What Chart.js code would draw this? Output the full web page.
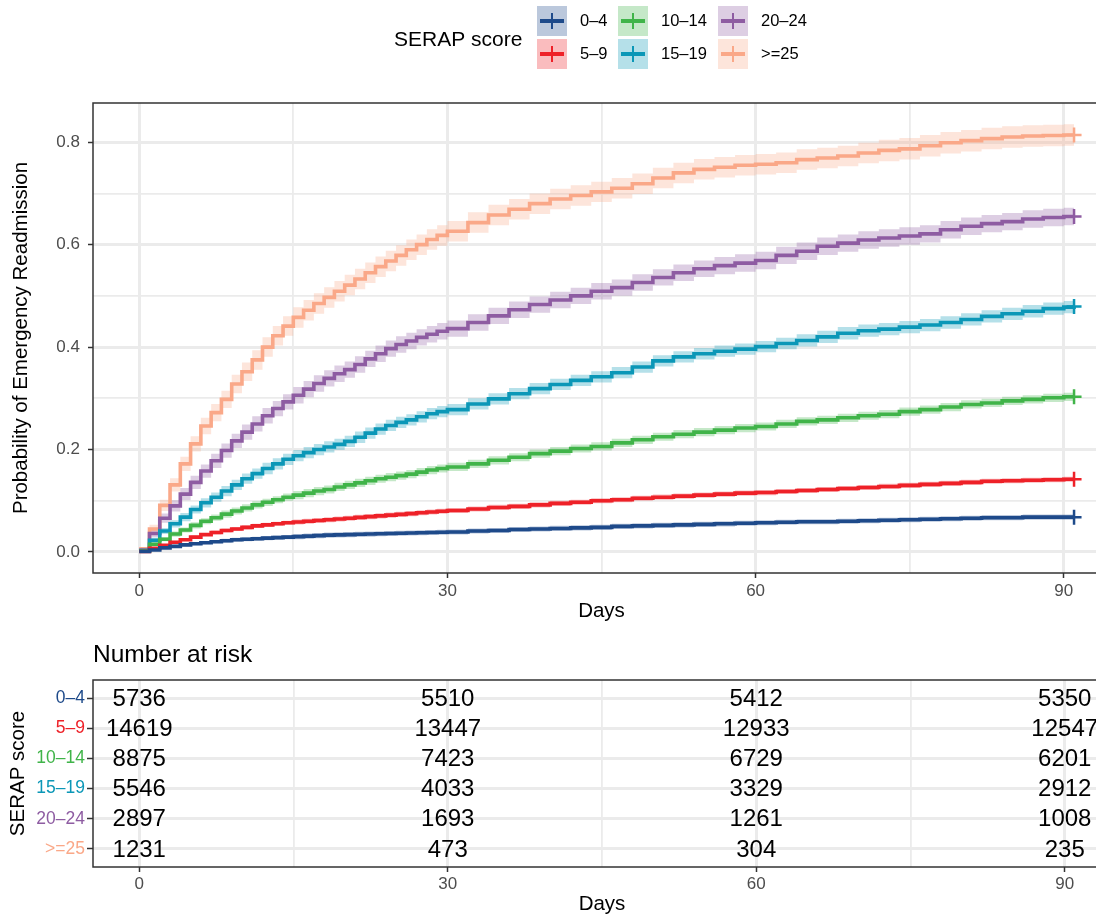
<!DOCTYPE html>
<html>
<head>
<meta charset="utf-8">
<title>SERAP score - emergency readmission</title>
<script src="https://cdn.jsdelivr.net/npm/chart.js@4.4.0/dist/chart.umd.min.js"></script>
<style>
  html, body { margin: 0; padding: 0; background: #fff; overflow: hidden; }
  body { width: 1096px; height: 918px; position: relative; }
  #kmChart { position: absolute; left: 0; top: 0; }
  #riskChart { position: absolute; left: 0; top: 630px; }
</style>
</head>
<body>
<canvas id="kmChart" width="1120" height="630"></canvas>
<canvas id="riskChart" width="1120" height="288"></canvas>
<script>
// groups and colours
const groups = ['0–4', '5–9', '10–14', '15–19', '20–24', '>=25'];
const colors = ['#1E4A8A', '#EE2128', '#40B449', '#0B97B7', '#8E5CA2', '#FAA888'];

// axis breaks
const dayBreaks = [0, 15, 30, 45, 60, 75, 90];
const dayLabels = [0, 30, 60, 90];
const probBreaks = [0, 0.1, 0.2, 0.3, 0.4, 0.5, 0.6, 0.7, 0.8];
const probLabels = [0, 0.2, 0.4, 0.6, 0.8];

// follow-up times (days)
const days = [0, 1, 2, 3, 4, 5, 6, 7, 8, 9, 10, 11, 12, 13, 14,
  15, 16, 17, 18, 19, 20, 21, 22, 23, 24, 25, 26, 27, 28, 29, 30,
  32, 34, 36, 38, 40, 42, 44, 46, 48, 50, 52, 54, 56, 58, 60,
  62, 64, 66, 68, 70, 72, 74, 76, 78, 80, 82, 84, 86, 88, 90, 91];

// cumulative probability of readmission, per group
const est04 = [0.001, 0.004, 0.008, 0.011, 0.014, 0.016, 0.018, 0.020, 0.022, 0.024, 0.025, 0.026, 0.027, 0.028, 0.029,
  0.030, 0.031, 0.032, 0.033, 0.0335, 0.034, 0.0345, 0.035, 0.0355, 0.036, 0.0365, 0.037, 0.0375, 0.038, 0.0385, 0.039,
  0.041, 0.042, 0.044, 0.045, 0.046, 0.047, 0.048, 0.050, 0.051, 0.052, 0.053, 0.054, 0.055, 0.056, 0.057,
  0.058, 0.059, 0.059, 0.060, 0.061, 0.062, 0.063, 0.064, 0.065, 0.066, 0.067, 0.067, 0.068, 0.068, 0.068, 0.068];
const est59 = [0.001, 0.007, 0.013, 0.019, 0.024, 0.029, 0.034, 0.038, 0.042, 0.045, 0.048, 0.051, 0.053, 0.055, 0.057,
  0.0585, 0.060, 0.0615, 0.063, 0.0645, 0.066, 0.0675, 0.069, 0.0705, 0.072, 0.0735, 0.075, 0.0765, 0.078, 0.0795, 0.081,
  0.084, 0.087, 0.089, 0.092, 0.095, 0.097, 0.100, 0.102, 0.105, 0.107, 0.109, 0.111, 0.113, 0.115, 0.116,
  0.118, 0.120, 0.122, 0.124, 0.126, 0.128, 0.130, 0.132, 0.134, 0.136, 0.138, 0.139, 0.140, 0.141, 0.142, 0.142];
const est1014 = [0.002, 0.015, 0.025, 0.035, 0.043, 0.052, 0.060, 0.067, 0.074, 0.080, 0.086, 0.092, 0.097, 0.102, 0.107,
  0.111, 0.115, 0.119, 0.122, 0.127, 0.131, 0.135, 0.139, 0.143, 0.146, 0.149, 0.152, 0.156, 0.160, 0.163, 0.166,
  0.172, 0.179, 0.185, 0.192, 0.197, 0.202, 0.206, 0.213, 0.219, 0.225, 0.230, 0.234, 0.238, 0.242, 0.245,
  0.250, 0.255, 0.258, 0.262, 0.266, 0.269, 0.274, 0.278, 0.283, 0.288, 0.291, 0.295, 0.298, 0.301, 0.303, 0.303];
const est1519 = [0.003, 0.023, 0.041, 0.055, 0.068, 0.083, 0.096, 0.107, 0.119, 0.131, 0.143, 0.153, 0.163, 0.172, 0.181,
  0.188, 0.194, 0.200, 0.205, 0.210, 0.216, 0.224, 0.232, 0.240, 0.247, 0.253, 0.258, 0.264, 0.270, 0.274, 0.278,
  0.289, 0.299, 0.309, 0.319, 0.327, 0.335, 0.342, 0.350, 0.361, 0.373, 0.381, 0.387, 0.392, 0.396, 0.401,
  0.407, 0.413, 0.420, 0.427, 0.432, 0.435, 0.439, 0.443, 0.448, 0.454, 0.460, 0.465, 0.470, 0.475, 0.478, 0.479];
const est2024 = [0.004, 0.036, 0.066, 0.090, 0.113, 0.136, 0.158, 0.178, 0.198, 0.217, 0.234, 0.250, 0.266, 0.280, 0.293,
  0.306, 0.318, 0.329, 0.339, 0.348, 0.356, 0.366, 0.377, 0.387, 0.397, 0.405, 0.412, 0.419, 0.425, 0.431, 0.436,
  0.448, 0.461, 0.473, 0.483, 0.492, 0.500, 0.509, 0.516, 0.526, 0.536, 0.545, 0.553, 0.559, 0.564, 0.569,
  0.579, 0.587, 0.597, 0.603, 0.609, 0.613, 0.617, 0.621, 0.629, 0.636, 0.641, 0.645, 0.650, 0.653, 0.655, 0.655];
const est25 = [0.006, 0.045, 0.091, 0.131, 0.172, 0.211, 0.246, 0.272, 0.298, 0.328, 0.352, 0.375, 0.400, 0.422, 0.441,
  0.458, 0.472, 0.485, 0.497, 0.509, 0.521, 0.533, 0.545, 0.557, 0.568, 0.579, 0.590, 0.600, 0.610, 0.618, 0.626,
  0.643, 0.658, 0.669, 0.680, 0.689, 0.696, 0.703, 0.710, 0.719, 0.730, 0.740, 0.747, 0.751, 0.755, 0.757,
  0.760, 0.766, 0.769, 0.773, 0.779, 0.784, 0.787, 0.793, 0.799, 0.803, 0.807, 0.810, 0.812, 0.813, 0.814, 0.814];

// half width of the confidence band, per group
const hw04 = [0.001, 0.002, 0.002, 0.003, 0.003, 0.003, 0.003, 0.003, 0.004, 0.004, 0.004, 0.004, 0.004, 0.004, 0.004,
  0.005, 0.005, 0.005, 0.005, 0.005, 0.005, 0.005, 0.005, 0.005, 0.005, 0.005, 0.005, 0.005, 0.005, 0.005, 0.005,
  0.005, 0.005, 0.005, 0.005, 0.005, 0.005, 0.005, 0.005, 0.005, 0.005, 0.005, 0.005, 0.005, 0.005, 0.005,
  0.005, 0.005, 0.005, 0.005, 0.005, 0.005, 0.005, 0.005, 0.005, 0.005, 0.005, 0.005, 0.005, 0.005, 0.005, 0.005];
const hw59 = [0.001, 0.002, 0.002, 0.003, 0.003, 0.003, 0.003, 0.004, 0.004, 0.004, 0.004, 0.004, 0.004, 0.004, 0.004,
  0.005, 0.005, 0.005, 0.005, 0.005, 0.005, 0.005, 0.005, 0.005, 0.005, 0.005, 0.005, 0.005, 0.005, 0.005, 0.005,
  0.005, 0.005, 0.005, 0.005, 0.005, 0.005, 0.005, 0.005, 0.005, 0.005, 0.005, 0.005, 0.005, 0.005, 0.005,
  0.005, 0.005, 0.005, 0.005, 0.005, 0.005, 0.005, 0.005, 0.005, 0.005, 0.005, 0.005, 0.005, 0.005, 0.005, 0.005];
const hw1014 = [0.001, 0.003, 0.004, 0.005, 0.005, 0.006, 0.006, 0.006, 0.007, 0.007, 0.007, 0.007, 0.007, 0.007, 0.007,
  0.008, 0.008, 0.008, 0.008, 0.008, 0.008, 0.008, 0.008, 0.008, 0.008, 0.008, 0.008, 0.008, 0.008, 0.008, 0.008,
  0.008, 0.008, 0.008, 0.008, 0.008, 0.008, 0.008, 0.008, 0.008, 0.008, 0.008, 0.008, 0.008, 0.008, 0.008,
  0.008, 0.008, 0.008, 0.008, 0.008, 0.008, 0.008, 0.008, 0.008, 0.008, 0.008, 0.008, 0.008, 0.008, 0.008, 0.008];
const hw1519 = [0.002, 0.005, 0.006, 0.007, 0.008, 0.008, 0.009, 0.009, 0.010, 0.010, 0.010, 0.010, 0.011, 0.011, 0.011,
  0.011, 0.011, 0.011, 0.011, 0.011, 0.011, 0.011, 0.011, 0.011, 0.011, 0.011, 0.011, 0.011, 0.011, 0.011, 0.011,
  0.011, 0.011, 0.011, 0.011, 0.011, 0.011, 0.011, 0.011, 0.011, 0.011, 0.011, 0.011, 0.011, 0.011, 0.011,
  0.011, 0.012, 0.012, 0.012, 0.012, 0.012, 0.012, 0.012, 0.012, 0.012, 0.012, 0.012, 0.012, 0.012, 0.012, 0.012];
const hw2024 = [0.003, 0.007, 0.009, 0.011, 0.012, 0.013, 0.013, 0.014, 0.014, 0.014, 0.015, 0.015, 0.015, 0.015, 0.015,
  0.016, 0.016, 0.016, 0.016, 0.016, 0.016, 0.016, 0.016, 0.016, 0.016, 0.016, 0.016, 0.016, 0.016, 0.016, 0.016,
  0.016, 0.016, 0.016, 0.016, 0.016, 0.016, 0.016, 0.016, 0.016, 0.016, 0.016, 0.016, 0.017, 0.017, 0.017,
  0.017, 0.017, 0.017, 0.017, 0.017, 0.017, 0.017, 0.017, 0.017, 0.017, 0.017, 0.017, 0.017, 0.017, 0.017, 0.017];
const hw25 = [0.003, 0.008, 0.011, 0.013, 0.014, 0.015, 0.016, 0.017, 0.017, 0.018, 0.018, 0.019, 0.019, 0.019, 0.019,
  0.020, 0.020, 0.020, 0.020, 0.020, 0.020, 0.020, 0.020, 0.020, 0.020, 0.020, 0.020, 0.020, 0.020, 0.020, 0.020,
  0.020, 0.020, 0.020, 0.020, 0.020, 0.020, 0.020, 0.020, 0.020, 0.020, 0.020, 0.020, 0.020, 0.020, 0.020,
  0.020, 0.020, 0.020, 0.020, 0.020, 0.021, 0.021, 0.021, 0.021, 0.021, 0.021, 0.021, 0.021, 0.021, 0.021, 0.021];

// number at risk table
const riskDays = [0, 30, 60, 90];
const risk04 = [5736, 5510, 5412, 5350];
const risk59 = [14619, 13447, 12933, 12547];
const risk1014 = [8875, 7423, 6729, 6201];
const risk1519 = [5546, 4033, 3329, 2912];
const risk2024 = [2897, 1693, 1261, 1008];
const risk25 = [1231, 473, 304, 235];

const estimates = [est04, est59, est1014, est1519, est2024, est25];
const halfWidths = [hw04, hw59, hw1014, hw1519, hw2024, hw25];
const riskCounts = [risk04, risk59, risk1014, risk1519, risk2024, risk25];

const FONT = '"Liberation Sans", Arial, Helvetica, sans-serif';
Chart.defaults.font.family = FONT;
Chart.defaults.color = '#4D4D4D';

const fade = (hex, a) => {
  const n = parseInt(hex.slice(1), 16);
  return `rgba(${(n >> 16) & 255}, ${(n >> 8) & 255}, ${n & 255}, ${a})`;
};
const pts = vals => days.map((d, i) => ({ x: d, y: vals[i] }));
const isMajorDay = v => dayLabels.includes(v);
const isMajorProb = v => probLabels.some(p => Math.abs(p - v) < 1e-9);

// bands first (upper filled down to lower), then the step lines
const kmSets = [];
groups.forEach((g, k) => {
  const est = estimates[k], hw = halfWidths[k];
  kmSets.push({
    label: g + ' upper', data: pts(est.map((v, i) => v + hw[i])), stepped: true,
    fill: '+1', backgroundColor: fade(colors[k], 0.3), borderColor: 'transparent',
    borderWidth: 0, pointRadius: 0, order: 2
  });
  kmSets.push({
    label: g + ' lower', data: pts(est.map((v, i) => v - hw[i])), stepped: true,
    fill: false, borderColor: 'transparent', borderWidth: 0, pointRadius: 0, order: 2
  });
});
groups.forEach((g, k) => {
  kmSets.push({
    label: g, data: pts(estimates[k]), stepped: true, fill: false,
    borderColor: colors[k], borderWidth: 3.6,
    pointStyle: 'cross', pointBorderColor: colors[k], pointBorderWidth: 2.5,
    pointRadius: ctx => ctx.dataIndex === days.length - 1 ? 7.5 : 0,
    order: 1
  });
});

const panelBorder = {
  id: 'panelBorder',
  afterDraw(chart) {
    const { left, top, right, bottom } = chart.chartArea;
    const c = chart.ctx;
    c.save();
    c.strokeStyle = '#333333';
    c.lineWidth = 1.5;
    c.strokeRect(left, top, right - left, bottom - top);
    c.restore();
  }
};

// ggplot style legend: title on the left, keys in 3 columns of 2
const serapLegend = {
  id: 'serapLegend',
  afterDraw(chart) {
    const c = chart.ctx;
    c.save();
    c.textBaseline = 'middle';
    c.textAlign = 'left';
    c.fillStyle = '#000';
    c.font = '21px ' + FONT;
    c.fillText('SERAP score', 394, 40);
    const colX = [537, 618, 718];
    const rowY = [6, 39];
    c.font = '16.5px ' + FONT;
    groups.forEach((g, k) => {
      const bx = colX[Math.floor(k / 2)], by = rowY[k % 2];
      c.fillStyle = fade(colors[k], 0.3);
      c.fillRect(bx, by, 30, 30);
      c.strokeStyle = colors[k];
      c.lineWidth = 4;
      c.beginPath(); c.moveTo(bx + 3, by + 15); c.lineTo(bx + 27, by + 15); c.stroke();
      c.lineWidth = 2;
      c.beginPath(); c.moveTo(bx + 15, by + 7); c.lineTo(bx + 15, by + 23); c.stroke();
      c.fillStyle = '#000';
      c.fillText(g, bx + 43, by + 15);
    });
    c.restore();
  }
};

new Chart(document.getElementById('kmChart'), {
  type: 'line',
  data: { datasets: kmSets },
  options: {
    responsive: false,
    animation: false,
    events: [],
    layout: { padding: { top: 103, right: 9, bottom: 0, left: 0 } },
    plugins: { legend: { display: false }, tooltip: { enabled: false } },
    scales: {
      x: {
        type: 'linear', min: -4.5, max: 94.5,
        afterBuildTicks: sc => { sc.ticks = dayBreaks.map(v => ({ value: v })); },
        afterFit: sc => { sc.height = 57; },
        border: { display: false },
        grid: {
          color: '#EBEBEB',
          lineWidth: ctx => isMajorDay(ctx.tick.value) ? 3 : 1.8,
          tickLength: 5,
          tickWidth: 1.5,
          tickColor: ctx => isMajorDay(ctx.tick.value) ? '#333333' : 'rgba(0,0,0,0)'
        },
        ticks: {
          autoSkip: false, maxRotation: 0, padding: 3, color: '#4D4D4D', font: { size: 17 },
          callback: v => isMajorDay(v) ? String(v) : ''
        },
        title: { display: true, text: 'Days', color: '#000', font: { size: 20.5 }, padding: { top: 0, bottom: 6 } }
      },
      y: {
        type: 'linear', min: -0.041, max: 0.8765,
        afterBuildTicks: sc => { sc.ticks = probBreaks.map(v => ({ value: v })); },
        afterFit: sc => { sc.width = 93; },
        border: { display: false },
        grid: {
          color: '#EBEBEB',
          lineWidth: ctx => isMajorProb(ctx.tick.value) ? 3 : 1.8,
          tickLength: 5,
          tickWidth: 1.5,
          tickColor: ctx => isMajorProb(ctx.tick.value) ? '#333333' : 'rgba(0,0,0,0)'
        },
        ticks: {
          autoSkip: false, padding: 8, color: '#4D4D4D', font: { size: 17 },
          callback: v => isMajorProb(v) ? v.toFixed(1) : ''
        },
        title: {
          display: true, text: 'Probability of Emergency Readmission', color: '#000',
          font: { size: 20.5 }, padding: { top: 9, bottom: 0 }
        }
      }
    }
  },
  plugins: [panelBorder, serapLegend]
});

// number at risk table
const riskSets = riskCounts.map((counts, k) => ({
  type: 'scatter',
  label: groups[k],
  data: riskDays.map((d, i) => ({ x: d, y: k + 1, n: counts[i] })),
  pointRadius: 0
}));

const riskText = {
  id: 'riskText',
  afterDatasetsDraw(chart) {
    const c = chart.ctx;
    c.save();
    c.fillStyle = '#000';
    c.textAlign = 'center';
    c.textBaseline = 'middle';
    c.font = '24px ' + FONT;
    chart.data.datasets.forEach((ds, di) => {
      chart.getDatasetMeta(di).data.forEach((pt, i) => {
        c.fillText(String(ds.data[i].n), pt.x, pt.y + 1);
      });
    });
    c.textAlign = 'left';
    c.font = '24.5px ' + FONT;
    c.fillText('Number at risk', chart.chartArea.left, 25);
    c.restore();
  }
};

new Chart(document.getElementById('riskChart'), {
  type: 'scatter',
  data: { datasets: riskSets },
  options: {
    responsive: false,
    animation: false,
    events: [],
    layout: { padding: { top: 50, right: 9, bottom: 0, left: 0 } },
    plugins: { legend: { display: false }, tooltip: { enabled: false } },
    scales: {
      x: {
        type: 'linear', min: -4.5, max: 94.5,
        afterBuildTicks: sc => { sc.ticks = dayBreaks.map(v => ({ value: v })); },
        afterFit: sc => { sc.height = 51; },
        border: { display: false },
        grid: {
          color: '#EBEBEB',
          lineWidth: ctx => isMajorDay(ctx.tick.value) ? 3 : 1.8,
          tickLength: 5,
          tickWidth: 1.5,
          tickColor: ctx => isMajorDay(ctx.tick.value) ? '#333333' : 'rgba(0,0,0,0)'
        },
        ticks: {
          autoSkip: false, maxRotation: 0, padding: 2, color: '#4D4D4D', font: { size: 17 },
          callback: v => isMajorDay(v) ? String(v) : ''
        },
        title: { display: true, text: 'Days', color: '#000', font: { size: 20.5 }, padding: { top: 0, bottom: 1 } }
      },
      y: {
        type: 'linear', min: 0.4, max: 6.6, reverse: true,
        afterBuildTicks: sc => { sc.ticks = groups.map((g, i) => ({ value: i + 1 })); },
        afterFit: sc => { sc.width = 93; },
        border: { display: false },
        grid: { color: '#EBEBEB', lineWidth: 3, tickLength: 6, tickWidth: 1.5, tickColor: '#333333' },
        ticks: {
          autoSkip: false, padding: 2, font: { size: 17.5 },
          color: ctx => colors[ctx.index],
          callback: v => groups[v - 1]
        },
        title: { display: true, text: 'SERAP score', color: '#000', font: { size: 20.5 }, padding: { top: 6, bottom: 0 } }
      }
    }
  },
  plugins: [panelBorder, riskText]
});
</script>
</body>
</html>
